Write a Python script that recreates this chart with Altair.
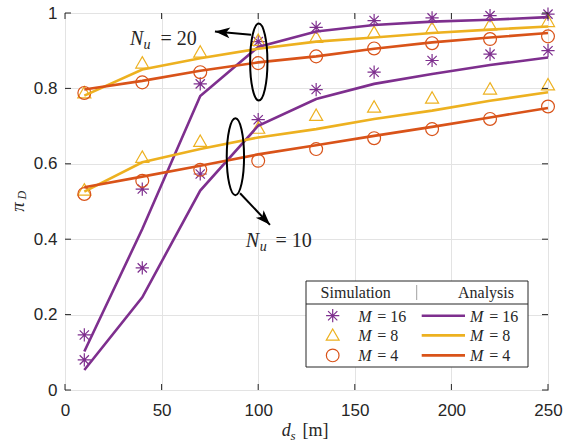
import altair as alt
import pandas as pd

# ---------------- data ----------------
x_ds = [10, 40, 70, 100, 130, 160, 190, 220, 250]

sim16_20 = [0.146, 0.533, 0.812, 0.924, 0.962, 0.980, 0.987, 0.993, 0.997]
ana16_20 = [0.102, 0.427, 0.780, 0.910, 0.951, 0.968, 0.977, 0.982, 0.989]
sim16_10 = [0.080, 0.324, 0.573, 0.717, 0.797, 0.843, 0.874, 0.891, 0.900]
ana16_10 = [0.053, 0.246, 0.529, 0.701, 0.772, 0.812, 0.838, 0.862, 0.882]
sim8_20 = [0.788, 0.867, 0.896, 0.927, 0.935, 0.948, 0.959, 0.968, 0.977]
ana8_20 = [0.781, 0.850, 0.880, 0.905, 0.924, 0.935, 0.947, 0.956, 0.964]
sim8_10 = [0.530, 0.617, 0.659, 0.694, 0.728, 0.750, 0.774, 0.798, 0.809]
ana8_10 = [0.526, 0.604, 0.639, 0.670, 0.692, 0.719, 0.741, 0.767, 0.790]
sim4_20 = [0.788, 0.816, 0.843, 0.867, 0.885, 0.906, 0.920, 0.931, 0.938]
ana4_20 = [0.797, 0.820, 0.847, 0.869, 0.885, 0.905, 0.922, 0.935, 0.947]
sim4_10 = [0.520, 0.555, 0.584, 0.608, 0.639, 0.668, 0.692, 0.719, 0.752]
ana4_10 = [0.538, 0.566, 0.595, 0.625, 0.649, 0.674, 0.698, 0.723, 0.748]

M_values = ["16", "8", "4"]
colors = ["#7E2F8E", "#EDB120", "#D95319"]
x_ticks = [0, 50, 100, 150, 200, 250]
y_ticks = [0, 0.2, 0.4, 0.6, 0.8, 1]

series = [
    ("16", "20", sim16_20, ana16_20),
    ("16", "10", sim16_10, ana16_10),
    ("8", "20", sim8_20, ana8_20),
    ("8", "10", sim8_10, ana8_10),
    ("4", "20", sim4_20, ana4_20),
    ("4", "10", sim4_10, ana4_10),
]

sim_rows, ana_rows = [], []
for M, Nu, sim, ana in series:
    for xi, s, a in zip(x_ds, sim, ana):
        sim_rows.append({"x": xi, "y": s, "M": M, "grp": M + "_" + Nu})
        ana_rows.append({"x": xi, "y": a, "M": M, "grp": M + "_" + Nu})
sim_df = pd.DataFrame(sim_rows)
ana_df = pd.DataFrame(ana_rows)

# ---------------- styling ----------------
AX = "#262626"
GRID = "#e3e3e3"
SERIF = "Liberation Serif"
SANS = "Liberation Sans"
W, H = 483, 377

ASTERISK = "M0,-1L0,1M-1,0L1,0M-0.7,-0.7L0.7,0.7M-0.7,0.7L0.7,-0.7"
TRIANGLE = "M0,-1L1,0.75L-1,0.75Z"
ELLIPSE = "M0,-1A0.225,1,0,1,1,0,1A0.225,1,0,1,1,0,-1Z"
ARROW = "M0,0L-2,-0.72L-1.5,0L-2,0.72Z"

xs = alt.Scale(domain=[0, 250], nice=False, zero=False)
ys = alt.Scale(domain=[0, 1], nice=False, zero=False)
xaxis = alt.Axis(values=x_ticks, title=None, grid=True, gridColor=GRID, gridWidth=1,
                 tickSize=0, domain=False, labelFont=SANS, labelFontSize=17,
                 labelColor=AX, labelPadding=12, labelFlush=False, labelOverlap=False)
yaxis = alt.Axis(values=y_ticks, title=None, grid=True, gridColor=GRID, gridWidth=1,
                 tickSize=0, domain=False, labelFont=SANS, labelFontSize=17,
                 labelColor=AX, labelPadding=8, format="~g", labelFlush=False,
                 labelOverlap=False)


def X(f):
    return alt.X(f, type="quantitative", scale=xs, axis=xaxis)


def Y(f):
    return alt.Y(f, type="quantitative", scale=ys, axis=yaxis)


color_scale = alt.Scale(domain=M_values, range=colors)
shape_scale = alt.Scale(domain=M_values, range=[ASTERISK, TRIANGLE, "circle"])
size_scale = alt.Scale(domain=M_values, range=[175, 165, 160])

markers = alt.Chart(sim_df).mark_point(filled=False, strokeWidth=1.2, opacity=1).encode(
    x=X("x"), y=Y("y"),
    color=alt.Color("M:N", scale=color_scale, legend=None),
    shape=alt.Shape("M:N", scale=shape_scale, legend=None),
    size=alt.Size("M:N", scale=size_scale, legend=None),
)

lines = alt.Chart(ana_df).mark_line(strokeWidth=2.6).encode(
    x=X("x"), y=Y("y"),
    color=alt.Color("M:N", scale=color_scale, legend=None),
    detail="grp:N",
)

# inward ticks on all four sides
xt_df = pd.DataFrame({"t": x_ticks})
yt_df = pd.DataFrame({"t": y_ticks})
tick_layers = [
    alt.Chart(xt_df).mark_rule(color=AX, strokeWidth=1).encode(
        x=X("t"), y=alt.value(H), y2=alt.value(H - 6)),
    alt.Chart(xt_df).mark_rule(color=AX, strokeWidth=1).encode(
        x=X("t"), y=alt.value(0), y2=alt.value(6)),
    alt.Chart(yt_df).mark_rule(color=AX, strokeWidth=1).encode(
        y=Y("t"), x=alt.value(0), x2=alt.value(6)),
    alt.Chart(yt_df).mark_rule(color=AX, strokeWidth=1).encode(
        y=Y("t"), x=alt.value(W), x2=alt.value(W - 6)),
]

# annotations (data coordinates)
ell_df = pd.DataFrame({"x": [100.3, 88.2], "y": [0.870, 0.619]})
ellipses = alt.Chart(ell_df).mark_point(
    shape=ELLIPSE, size=77 ** 2, filled=False, stroke="black", strokeWidth=2, opacity=1
).encode(x=X("x"), y=Y("y"))

arr_df = pd.DataFrame({
    "x": [96.3, 90.6], "y": [0.942, 0.522],
    "x2": [77.6, 106.1], "y2": [0.951, 0.438],
    "ang": [185.5, 46.6],
})
arrow_lines = alt.Chart(arr_df).mark_rule(color="black", strokeWidth=2).encode(
    x=X("x"), y=Y("y"), x2="x2:Q", y2="y2:Q")
arrow_heads = alt.Chart(arr_df).mark_point(
    shape=ARROW, size=225, filled=True, color="black", opacity=1, strokeWidth=0.5
).encode(x=X("x2"), y=Y("y2"), angle=alt.Angle("ang:Q", scale=None))


def dtext(xv, yv, txt, size, italic=False):
    d = pd.DataFrame({"x": [xv], "y": [yv]})
    return alt.Chart(d).mark_text(
        text=txt, font=SERIF, fontSize=size, fontStyle="italic" if italic else "normal",
        align="left", baseline="alphabetic", color=AX
    ).encode(x=X("x"), y=Y("y"))


anno_text = [
    dtext(33.6, 0.916, "N", 20, True),
    dtext(40.6, 0.905, "u", 14, True),
    dtext(49.4, 0.916, "= 20", 20),
    dtext(93.6, 0.380, "N", 20, True),
    dtext(100.8, 0.369, "u", 14, True),
    dtext(108.9, 0.380, "= 10", 20),
]

# pixel-positioned elements (legend, axis titles)
one = pd.DataFrame({"a": [0]})


def ptext(px, py, txt, size, italic=False, align="left", baseline="middle",
          angle=0, color=AX, font=SERIF):
    return alt.Chart(one).mark_text(
        text=txt, font=font, fontSize=size, fontStyle="italic" if italic else "normal",
        align=align, baseline=baseline, angle=angle, color=color
    ).encode(x=alt.value(px), y=alt.value(py))


legend_box = alt.Chart(one).mark_rect(fill="white", stroke=AX, strokeWidth=1).encode(
    x=alt.value(241), x2=alt.value(463), y=alt.value(268), y2=alt.value(354))
legend_div = alt.Chart(one).mark_rule(color=AX, strokeWidth=1).encode(
    x=alt.value(241), x2=alt.value(463), y=alt.value(291))
legend_sep = alt.Chart(one).mark_rule(color="#a0a0a0", strokeWidth=1).encode(
    x=alt.value(351.7), y=alt.value(272), y2=alt.value(287))

legend_layers = [
    legend_box, legend_div, legend_sep,
    ptext(290.7, 280, "Simulation", 16, align="center"),
    ptext(421, 280, "Analysis", 16, align="center"),
]
row_y = [302.7, 322.4, 342.4]
leg_shapes = [ASTERISK, TRIANGLE, "circle"]
leg_sizes = [175, 165, 160]
for M, c, shp, sz, ry in zip(M_values, colors, leg_shapes, leg_sizes, row_y):
    legend_layers.append(
        alt.Chart(one).mark_point(shape=shp, size=sz, filled=False, color=c,
                                  strokeWidth=1.2, opacity=1).encode(
            x=alt.value(267.7), y=alt.value(ry)))
    legend_layers.append(
        alt.Chart(one).mark_rule(color=c, strokeWidth=2.6).encode(
            x=alt.value(356.7), x2=alt.value(400), y=alt.value(ry)))
    for x0, x1 in [(293.3, 312.3), (405, 424.3)]:
        legend_layers.append(ptext(x0, ry + 1, "M", 16, italic=True))
        legend_layers.append(ptext(x1, ry + 1, "= " + M, 16))

title_layers = [
    ptext(216.7, 423.4, "d", 18, italic=True, baseline="alphabetic"),
    ptext(225.5, 426.5, "s", 13, italic=True, baseline="alphabetic"),
    ptext(237.5, 423.4, "[m]", 18, baseline="alphabetic"),
    ptext(-41, 198.7, "π", 19, italic=True, baseline="alphabetic", angle=270),
    ptext(-39.5, 186.5, "D", 12, italic=True, baseline="alphabetic", angle=270),
]

chart = alt.layer(
    markers, lines, *tick_layers, ellipses, arrow_lines, arrow_heads,
    *anno_text, *legend_layers, *title_layers
).properties(
    width=W, height=H,
    autosize=alt.AutoSizeParams(type="none"),
    padding={"left": 65, "top": 13, "right": 22, "bottom": 52},
    background="white",
).configure_view(stroke=AX, strokeWidth=1)

chart.save("out.html", embed_options={"renderer": "svg", "actions": False})
